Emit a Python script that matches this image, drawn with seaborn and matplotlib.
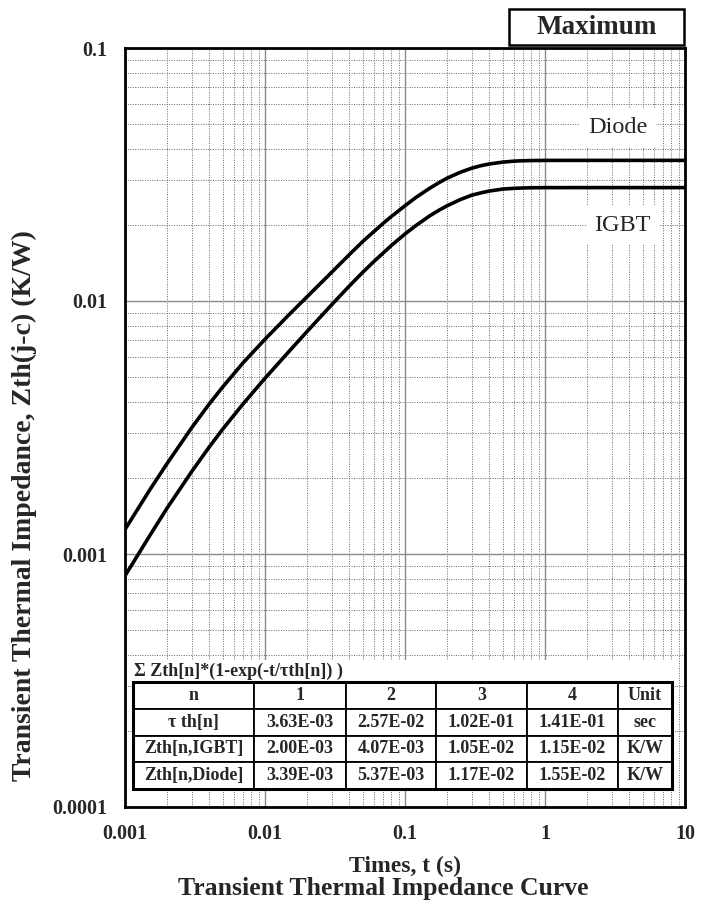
import matplotlib
matplotlib.use('Agg')
import matplotlib.pyplot as plt
import matplotlib.ticker as mticker
from matplotlib.patches import Rectangle
import seaborn as sns
import pandas as pd

# Curve values
times = [0.001, 0.0015, 0.002, 0.003, 0.004, 0.005, 0.007, 0.01, 0.015, 0.02, 0.03,
         0.04, 0.05, 0.06, 0.07, 0.08, 0.1, 0.12, 0.15, 0.175, 0.2, 0.25, 0.3, 0.35,
         0.4, 0.5, 0.6, 0.7, 0.8, 1, 2, 5, 10]
zth_igbt = [0.00082, 0.00118, 0.00152, 0.00212, 0.00265, 0.00312, 0.00393, 0.00495,
            0.00636, 0.00758, 0.00968, 0.01146, 0.0130, 0.01433, 0.0155, 0.01658,
            0.0184, 0.01989, 0.0217, 0.02285, 0.0238, 0.02521, 0.0262, 0.02677,
            0.0272, 0.0277, 0.02788, 0.02798, 0.02803, 0.02806, 0.02807, 0.02807, 0.02807]
zth_diode = [0.00125, 0.00179, 0.00228, 0.00316, 0.00392, 0.00458, 0.00571, 0.00706,
             0.00888, 0.0104, 0.0130, 0.01525, 0.0172, 0.01882, 0.0203, 0.02159,
             0.0238, 0.02569, 0.0279, 0.02937, 0.0306, 0.03232, 0.0335, 0.03428,
             0.0348, 0.0354, 0.03571, 0.03584, 0.0359, 0.03595, 0.03596, 0.03596, 0.03596]

x_ticks = [0.001, 0.01, 0.1, 1, 10]
x_ticklabels = ['0.001', '0.01', '0.1', '1', '10']
y_ticks = [0.0001, 0.001, 0.01, 0.1]
y_ticklabels = ['0.0001', '0.001', '0.01', '0.1']

# Foster table
table_header = ['n', '1', '2', '3', '4', 'Unit']
table_rows = [
    ['\u03c4 th[n]', '3.63E-03', '2.57E-02', '1.02E-01', '1.41E-01', 'sec'],
    ['Zth[n,IGBT]', '2.00E-03', '4.07E-03', '1.05E-02', '1.15E-02', 'K/W'],
    ['Zth[n,Diode]', '3.39E-03', '5.37E-03', '1.17E-02', '1.55E-02', 'K/W'],
]

df = pd.DataFrame({
    't': times * 2,
    'zth': zth_igbt + zth_diode,
    'device': ['IGBT'] * len(times) + ['Diode'] * len(times),
})

sns.set_theme(style='white')
plt.rcParams['font.family'] = ['Liberation Serif', 'DejaVu Serif']

fig = plt.figure(figsize=(7.16, 9.02), dpi=100)
ax = fig.add_axes([125 / 716, 95 / 902, 560 / 716, 759 / 902])

sns.lineplot(data=df, x='t', y='zth', units='device', estimator=None,
             color='black', linewidth=2.6, ax=ax, legend=False, zorder=5)

ax.set_xscale('log')
ax.set_yscale('log')
ax.set_xlim(0.001, 10)
ax.set_ylim(0.0001, 0.1)

ax.xaxis.set_minor_locator(mticker.LogLocator(base=10, subs=range(2, 10), numticks=20))
ax.yaxis.set_minor_locator(mticker.LogLocator(base=10, subs=range(2, 10), numticks=20))
ax.xaxis.set_minor_formatter(mticker.NullFormatter())
ax.yaxis.set_minor_formatter(mticker.NullFormatter())
ax.set_xticks(x_ticks)
ax.set_xticklabels(x_ticklabels, fontsize=14.5, fontweight='bold')
ax.set_yticks(y_ticks)
ax.set_yticklabels(y_ticklabels, fontsize=14.5, fontweight='bold')
ax.tick_params(which='both', length=0)
ax.tick_params(axis='x', pad=12)
ax.tick_params(axis='y', pad=13)

ax.grid(which='major', color='#8a8a8a', linewidth=1.0, linestyle='-', zorder=1)
ax.grid(which='minor', color='#666666', linewidth=0.7, linestyle=(0, (1, 1.5)), zorder=1)
ax.set_axisbelow(True)
for sp in ax.spines.values():
    sp.set_color('black')
    sp.set_linewidth(2.0)

ax.set_xlabel('Times, t (s)', fontsize=17, fontweight='bold')
ax.xaxis.set_label_coords(0.5, -0.064)
ax.set_ylabel('Transient Thermal Impedance, Zth(j-c) (K/W)', fontsize=20, fontweight='bold')
ax.yaxis.set_label_coords(-0.157, 0.397)

# curve labels
ax.text(3.32, 0.0483, 'Diode', fontsize=17.5, ha='center', va='center', zorder=6,
        bbox=dict(facecolor='white', edgecolor='none', pad=6))
ax.text(3.55, 0.01995, 'IGBT', fontsize=17.5, ha='center', va='center', zorder=6,
        bbox=dict(facecolor='white', edgecolor='none', pad=6))

# white block behind formula + table
tx0, ty0, tw, th = 0.0143, 0.0237, 0.9625, 0.141
ax.add_patch(Rectangle((tx0, ty0), tw, 0.170, transform=ax.transAxes,
                       facecolor='white', edgecolor='none', zorder=3))
ax.text(tx0 + 0.002, 0.179, '\u03a3 Zth[n]*(1-exp(-t/\u03c4th[n]) )', transform=ax.transAxes,
        fontsize=13, fontweight='bold', ha='left', va='center', zorder=4)

tbl = ax.table(cellText=table_rows, colLabels=table_header, cellLoc='center',
               colWidths=[0.2245, 0.171, 0.167, 0.169, 0.169, 0.100],
               bbox=[tx0, ty0, tw, th], zorder=4)
tbl.auto_set_font_size(False)
for (r, c), cell in tbl.get_celld().items():
    cell.set_linewidth(1.3)
    cell.set_edgecolor('black')
    cell.set_facecolor('white')
    cell.get_text().set_fontsize(13)
    cell.get_text().set_fontweight('bold')
ax.add_patch(Rectangle((tx0, ty0), tw, th, transform=ax.transAxes,
                       fill=False, edgecolor='black', linewidth=2.2, zorder=5))

# "Maximum" box
fig.patches.append(Rectangle((509 / 716, (902 - 45) / 902), 175 / 716, 36 / 902,
                             transform=fig.transFigure, fill=False,
                             edgecolor='black', linewidth=1.8))
fig.text(596.5 / 716, (902 - 27) / 902, 'Maximum', fontsize=19.5, fontweight='bold',
         ha='center', va='center')

fig.text(383 / 716, (902 - 889) / 902, 'Transient Thermal Impedance Curve',
         fontsize=18.5, fontweight='bold', ha='center', va='center')

fig.savefig('out.png', dpi=100)
